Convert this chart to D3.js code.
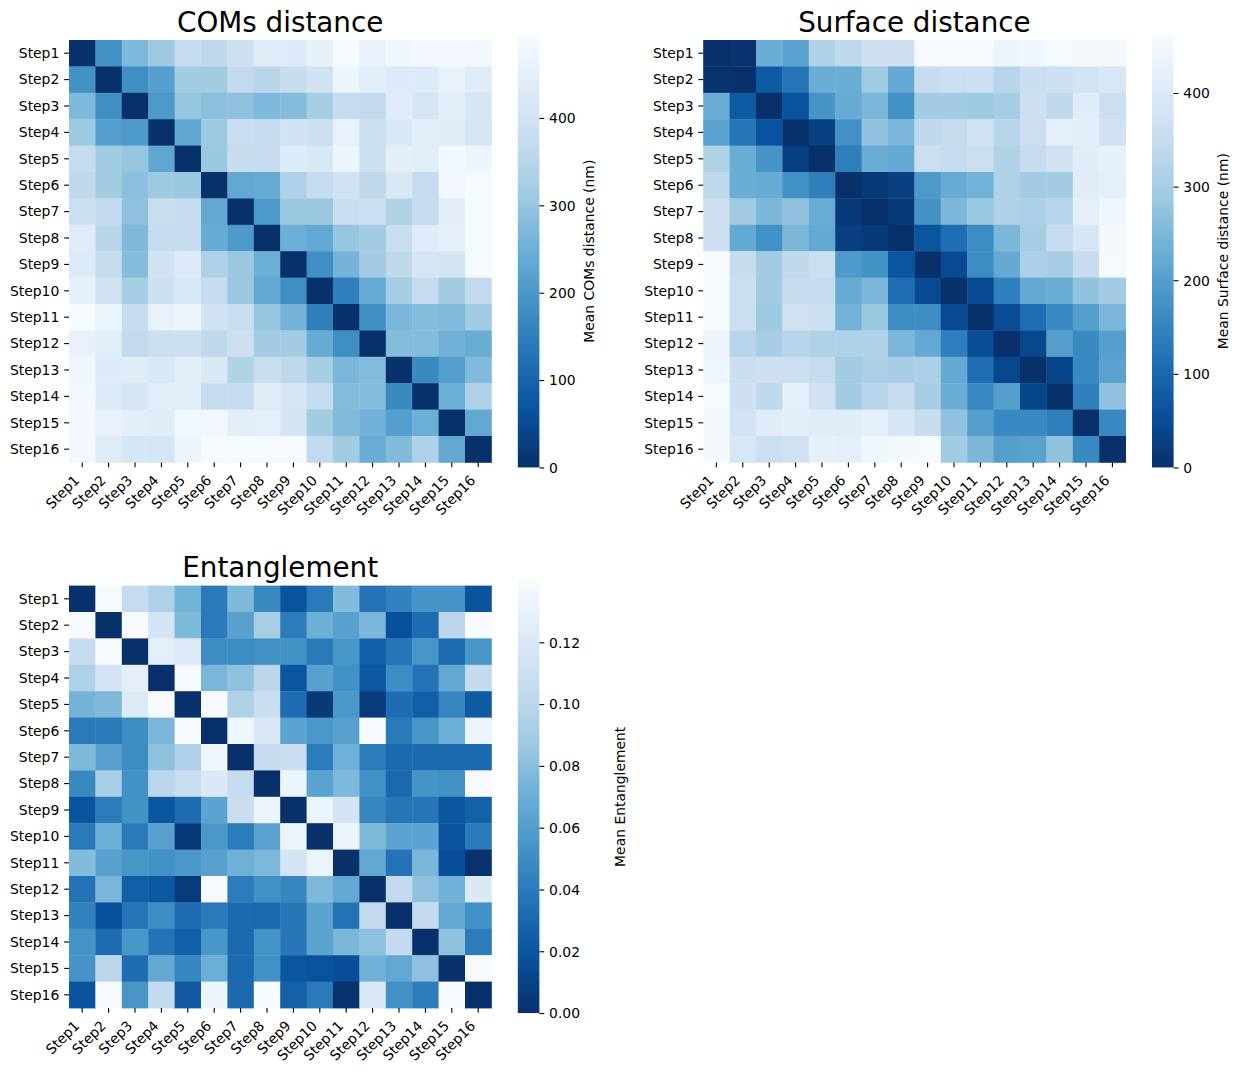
<!DOCTYPE html>
<html>
<head>
<meta charset="utf-8">
<script src="https://cdn.jsdelivr.net/npm/d3@7"></script>
<style>
  html, body { margin: 0; padding: 0; background: #ffffff; }
  svg text { font-family: "DejaVu Sans", sans-serif; fill: #000; }
</style>
</head>
<body>
<svg id="chart" width="1241" height="1073"></svg>
<script>
// ---------------- DATA ----------------
const steps = ["Step1","Step2","Step3","Step4","Step5","Step6","Step7","Step8",
               "Step9","Step10","Step11","Step12","Step13","Step14","Step15","Step16"];

const comsDistance = [
  [0,185,270,310,370,360,390,435,430,455,495,460,475,485,485,485],
  [185,0,180,215,315,315,365,350,375,400,470,440,430,430,460,435],
  [270,180,0,200,298,285,290,270,278,320,370,365,435,410,445,415],
  [310,215,200,0,230,310,380,370,400,390,460,385,420,440,438,410],
  [370,315,298,230,0,305,375,375,430,420,470,390,445,440,478,470],
  [360,315,285,310,305,0,235,240,335,370,400,360,420,370,480,490],
  [390,365,290,380,375,235,0,200,305,305,380,385,340,370,445,490],
  [435,350,270,370,375,240,200,0,248,235,300,315,380,435,450,490],
  [430,375,278,400,430,335,305,248,0,180,260,315,360,410,405,490],
  [455,400,320,390,420,370,305,235,180,0,150,240,320,370,315,365],
  [495,470,370,460,470,400,380,300,260,150,0,180,265,278,275,315],
  [460,440,365,385,390,360,385,315,315,240,180,0,278,278,255,245],
  [475,430,435,420,445,420,340,380,360,320,265,278,0,170,215,275],
  [485,430,410,440,440,370,370,435,410,370,278,278,170,0,248,335],
  [485,460,445,438,478,480,445,450,405,315,275,255,215,248,0,235],
  [485,435,415,410,470,490,490,490,490,365,315,245,275,335,235,0]
];

const surfaceDistance = [
  [0,5,230,205,315,335,365,365,462,462,462,435,445,458,455,455],
  [5,0,75,120,228,230,290,220,350,360,360,325,358,365,375,390],
  [230,75,0,60,180,225,250,172,295,295,288,300,365,340,410,360],
  [205,120,60,0,28,172,275,250,340,348,370,325,362,420,415,370],
  [315,228,180,28,0,140,228,220,360,345,360,315,346,370,410,425],
  [335,230,225,172,140,0,18,28,190,225,240,315,295,295,410,420],
  [365,290,250,275,228,18,0,18,175,250,282,315,308,325,420,445],
  [365,220,172,250,220,28,18,0,65,110,165,250,300,346,385,455],
  [462,350,295,340,360,190,175,65,0,48,165,220,308,300,350,460],
  [462,360,295,348,345,225,250,110,48,0,45,140,220,230,275,295],
  [462,360,288,370,360,240,282,165,165,45,0,50,110,158,200,250],
  [435,325,300,325,315,315,315,250,220,140,50,0,40,200,158,200],
  [445,358,365,362,346,295,308,300,308,220,110,40,0,38,158,205],
  [458,365,340,420,370,295,325,346,300,230,158,200,38,0,140,275],
  [455,375,410,415,410,410,420,385,350,275,200,158,158,140,0,158],
  [455,390,360,370,425,420,445,455,460,295,250,200,205,275,158,0]
];

const entanglement = [
  [0,.140,.105,.095,.073,.040,.077,.048,.019,.040,.078,.036,.044,.054,.054,.019],
  [.140,0,.140,.115,.077,.040,.062,.092,.041,.070,.062,.075,.017,.032,.100,.140],
  [.105,.140,0,.127,.122,.050,.050,.052,.053,.040,.055,.025,.037,.055,.033,.055],
  [.095,.115,.127,0,.140,.075,.082,.100,.020,.062,.052,.021,.050,.036,.066,.104],
  [.073,.077,.122,.140,0,.140,.095,.107,.033,.005,.056,.006,.033,.025,.046,.023],
  [.040,.040,.050,.075,.140,0,.135,.120,.063,.056,.062,.140,.040,.055,.070,.133],
  [.077,.062,.050,.082,.095,.135,0,.105,.108,.041,.071,.041,.031,.031,.031,.031],
  [.048,.092,.052,.100,.107,.120,.105,0,.133,.063,.076,.052,.030,.054,.052,.140],
  [.019,.041,.053,.020,.033,.063,.108,.133,0,.133,.115,.046,.038,.038,.020,.026],
  [.040,.070,.040,.062,.005,.056,.041,.063,.133,0,.132,.077,.063,.063,.018,.040],
  [.078,.062,.055,.052,.056,.062,.071,.076,.115,.132,0,.066,.036,.075,.016,.001],
  [.036,.075,.025,.021,.006,.140,.041,.052,.046,.077,.066,0,.104,.082,.072,.120],
  [.044,.017,.037,.050,.033,.040,.031,.030,.038,.063,.036,.104,0,.104,.066,.052],
  [.054,.032,.055,.036,.025,.055,.031,.054,.038,.063,.075,.082,.104,0,.082,.041],
  [.054,.100,.033,.066,.046,.070,.031,.052,.020,.018,.016,.072,.066,.082,0,.140],
  [.019,.140,.055,.104,.023,.133,.031,.140,.026,.040,.001,.120,.052,.041,.140,0]
];

const comsTicks = [0, 100, 200, 300, 400];
const surfaceTicks = [0, 100, 200, 300, 400];
const entTicks = [0, 0.02, 0.04, 0.06, 0.08, 0.10, 0.12];

const titles = ["COMs distance", "Surface distance", "Entanglement"];
const cbarLabels = ["Mean COMs distance (nm)", "Mean Surface distance (nm)", "Mean Entanglement"];

// matplotlib "Blues" colormap stops
const bluesStops = ["#f7fbff","#deebf7","#c6dbef","#9ecae1","#6baed6","#4292c6","#2171b5","#08519c","#08306b"];
const blues = d3.scaleLinear()
  .domain(d3.range(9).map(i => i / 8))
  .range(bluesStops)
  .interpolate(d3.interpolateRgb)
  .clamp(true);

// ---------------- LAYOUT ----------------
const svg = d3.select("#chart");
const SIZE = 422.4;
const TICK = 4.86;
const FONT = 13.9;

const panels = [
  { matrix: comsDistance, ticks: comsTicks, fmt: d3.format("d"), x: 69, y: 40,
    title: titles[0], label: cbarLabels[0], labelX: 589 },
  { matrix: surfaceDistance, ticks: surfaceTicks, fmt: d3.format("d"), x: 703.2, y: 40,
    title: titles[1], label: cbarLabels[1], labelX: 1223 },
  { matrix: entanglement, ticks: entTicks, fmt: d3.format(".2f"), x: 69, y: 585.6,
    title: titles[2], label: cbarLabels[2], labelX: 620 }
];

const defs = svg.append("defs");
const grad = defs.append("linearGradient").attr("id", "bluesR")
  .attr("x1", 0).attr("y1", 1).attr("x2", 0).attr("y2", 0);
// bottom (value min) = dark, top (value max) = light
bluesStops.slice().reverse().forEach((c, i) => {
  grad.append("stop").attr("offset", (i / 8 * 100) + "%").attr("stop-color", c);
});

function styleAxis(sel) {
  sel.select(".domain").remove();
  sel.selectAll(".tick line").attr("stroke", "#000").attr("stroke-width", 1.1);
  sel.selectAll(".tick text").style("font-size", FONT + "px")
     .style("font-family", "'DejaVu Sans', sans-serif").attr("fill", "#000");
}

panels.forEach(p => {
  const g = svg.append("g").attr("transform", `translate(${p.x},${p.y})`);
  const xs = d3.scaleBand().domain(steps).range([0, SIZE]);
  const ys = d3.scaleBand().domain(steps).range([0, SIZE]);
  const flat = p.matrix.flat();
  const vmin = d3.min(flat), vmax = d3.max(flat);
  const color = v => blues(1 - (v - vmin) / (vmax - vmin));

  const cells = [];
  p.matrix.forEach((row, i) => row.forEach((v, j) => cells.push({ r: steps[i], c: steps[j], v })));
  g.append("g").selectAll("rect").data(cells).join("rect")
    .attr("x", d => xs(d.c))
    .attr("y", d => ys(d.r))
    .attr("width", xs.bandwidth() + 0.4)
    .attr("height", ys.bandwidth() + 0.4)
    .attr("fill", d => color(d.v));

  // y axis
  const ya = g.append("g").call(d3.axisLeft(ys).tickSize(TICK).tickPadding(TICK));
  styleAxis(ya);
  ya.selectAll(".tick text").attr("dy", "0.35em");

  // x axis
  const xa = g.append("g").attr("transform", `translate(0,${SIZE})`)
    .call(d3.axisBottom(xs).tickSize(TICK).tickPadding(TICK));
  styleAxis(xa);
  xa.selectAll(".tick text")
    .attr("x", 0).attr("y", 0).attr("dy", null)
    .attr("text-anchor", "end")
    .attr("dominant-baseline", "central")
    .attr("transform", "translate(-5.4,15.2) rotate(-45)");

  // title
  g.append("text").attr("x", SIZE / 2).attr("y", -8.3)
    .attr("text-anchor", "middle").style("font-size", "27.8px").text(p.title);

  // colorbar
  const cbH = 432.5, cbW = 21.6;
  const cbX = SIZE + 26.4;
  const cbY = SIZE / 2 - cbH / 2;
  const cb = g.append("g").attr("transform", `translate(${cbX},${cbY})`);
  cb.append("rect").attr("width", cbW).attr("height", cbH).attr("fill", "url(#bluesR)");
  const cs = d3.scaleLinear().domain([vmin, vmax]).range([cbH, 0]);
  const ca = cb.append("g").attr("transform", `translate(${cbW},0)`)
    .call(d3.axisRight(cs).tickValues(p.ticks).tickFormat(p.fmt).tickSize(TICK).tickPadding(TICK));
  styleAxis(ca);
  ca.selectAll(".tick text").attr("dy", "0.35em");

  // colorbar label
  svg.append("text")
    .attr("transform", `translate(${p.labelX},${p.y + SIZE / 2}) rotate(-90)`)
    .attr("text-anchor", "middle").attr("dominant-baseline", "central")
    .style("font-size", FONT + "px").text(p.label);
});
</script>
</body>
</html>
